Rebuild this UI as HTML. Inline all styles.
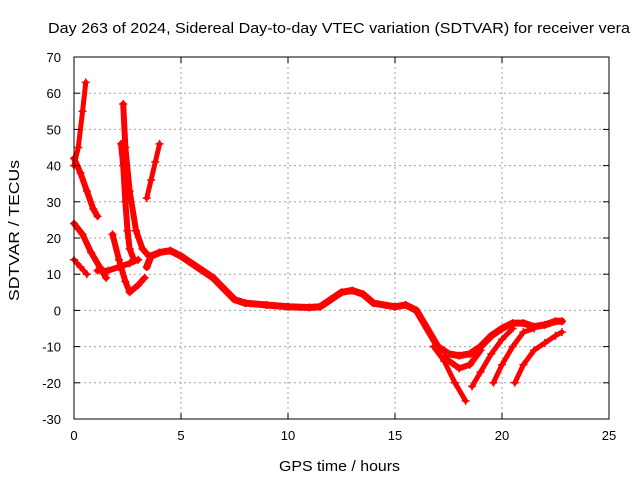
<!DOCTYPE html>
<html><head><meta charset="utf-8"><style>
body{margin:0;background:#fff}
svg text{font-family:"Liberation Sans",sans-serif;font-size:13px;fill:#000}
</style></head><body>
<svg id="chart" width="640" height="480">
<rect width="640" height="480" fill="#fff"/>
<text x="48" y="33" style="font-size:15px" textLength="582" lengthAdjust="spacingAndGlyphs">Day 263 of 2024, Sidereal Day-to-day VTEC variation (SDTVAR) for receiver vera</text>
<text x="279" y="471" style="font-size:15px" textLength="121" lengthAdjust="spacingAndGlyphs">GPS time / hours</text>
<text transform="translate(19,301) rotate(-90)" style="font-size:15px" textLength="141" lengthAdjust="spacingAndGlyphs">SDTVAR / TECUs</text>
<g id="grid"></g><g id="series"></g><g id="axes"></g>
</svg>
<script>
const xTicks=[0,5,10,15,20,25];
const yTicks=[-30,-20,-10,0,10,20,30,40,50,60,70];
const s1=[[0,40],[0.2,45],[0.4,55],[0.55,63]];
const s2=[[0,42],[0.3,38],[0.6,33],[0.9,28],[1.1,26]];
const s3=[[0,24],[0.4,21],[0.8,16],[1.2,12],[1.5,9]];
const s4=[[0,14],[0.3,12],[0.6,10]];
const s5=[[1.1,11],[1.6,11],[2.1,12],[2.6,13],[3.0,14]];
const s6=[[1.8,21],[2.1,14],[2.4,8],[2.6,5],[3.0,7],[3.3,9]];
const s7=[[2.2,46],[2.3,40],[2.4,30],[2.5,22],[2.6,17],[2.8,14]];
const s8=[[2.3,57],[2.4,45],[2.6,33],[2.9,22],[3.2,17],[3.5,15]];
const s9=[[3.4,31],[3.6,36],[3.8,41],[4.0,46]];
const main=[[3.4,12],[3.6,15],[4,16],[4.5,16.5],[5,15],[5.5,13],[6,11],[6.5,9],[7,6],[7.5,3],[8,2],[9,1.5],[10,1],[11,0.8],[11.5,1],[12,3],[12.5,5],[13,5.5],[13.5,4.5],[14,2],[15,1],[15.5,1.5],[16,0],[16.5,-5],[17,-10],[17.5,-12],[18,-12.5],[18.5,-12],[19,-10],[19.5,-7],[20,-5],[20.5,-3.5],[21,-3.5],[21.5,-4.5],[22,-4],[22.5,-3],[22.8,-3]];
const b1=[[16.8,-10],[17.3,-14],[17.8,-20],[18.3,-25]];
const b2=[[17.3,-13],[18,-16],[18.5,-15],[19,-11]];
const b3=[[18.6,-21],[19,-17],[19.5,-12],[20,-8],[20.5,-5]];
const b4=[[19.6,-20],[20,-15],[20.5,-10],[21,-6],[21.5,-5]];
const b5=[[20.6,-20],[21,-15],[21.5,-11],[22,-9],[22.5,-7],[22.8,-6]];
const allSeries=[s1,s2,s3,s4,s5,s6,s7,s8,s9,main,b1,b2,b3,b4,b5];
const widths=[5,6,6,5,6,6,6,6,5,7,5,6,5,5,5];
const X0=74,X1=609,Y0=419,Y1=57,xmin=0,xmax=25,ymin=-30,ymax=70;
const px=x=>X0+(x-xmin)/(xmax-xmin)*(X1-X0);
const py=v=>Y0-(v-ymin)/(ymax-ymin)*(Y0-Y1);
const NS="http://www.w3.org/2000/svg";
function mk(t,a,p){const e=document.createElementNS(NS,t);for(const k in a)e.setAttribute(k,a[k]);p.appendChild(e);return e;}
const grid=document.getElementById('grid'),axes=document.getElementById('axes'),ser=document.getElementById('series');
xTicks.forEach(t=>{const x=px(t);
 if(t>xmin&&t<xmax){const g=mk('line',{x1:x,x2:x,y1:Y1,y2:Y0,stroke:'#a0a0a0','stroke-dasharray':'2,3'},grid);
 
 }
 mk('line',{x1:x,x2:x,y1:Y0,y2:Y0-6,stroke:'#000'},axes);mk('line',{x1:x,x2:x,y1:Y1,y2:Y1+6,stroke:'#000'},axes);
 const l=mk('text',{x:x,y:Y0+21,'text-anchor':'middle'},axes);l.textContent=t;
 
 });
yTicks.forEach(t=>{const y=py(t);
 if(t>ymin&&t<ymax){const g=mk('line',{x1:X0,x2:X1,y1:y,y2:y,stroke:'#a0a0a0','stroke-dasharray':'2,3'},grid);
 
 }
 mk('line',{x1:X0,x2:X0+6,y1:y,y2:y,stroke:'#000'},axes);mk('line',{x1:X1,x2:X1-6,y1:y,y2:y,stroke:'#000'},axes);
 const l=mk('text',{x:X0-13,y:y+5,'text-anchor':'end'},axes);l.textContent=t;
 
 });
const fr=mk('rect',{x:X0,y:Y1,width:X1-X0,height:Y0-Y1,fill:'none',stroke:'#000'},axes);


allSeries.forEach((s,i)=>{
 const pl=mk('polyline',{points:s.map(p=>px(p[0])+','+py(p[1])).join(' '),fill:'none',stroke:'#ff0000','stroke-width':widths[i],'stroke-linejoin':'round','stroke-linecap':'round'},ser);
 
 
 s.forEach(p=>{const x=px(p[0]),y=py(p[1]);
  const m=mk('path',{d:`M${x-4},${y}H${x+4}M${x},${y-4}V${y+4}`,stroke:'#ff0000','stroke-width':1.5},ser);
  
  });
});
</script>
</body></html>
